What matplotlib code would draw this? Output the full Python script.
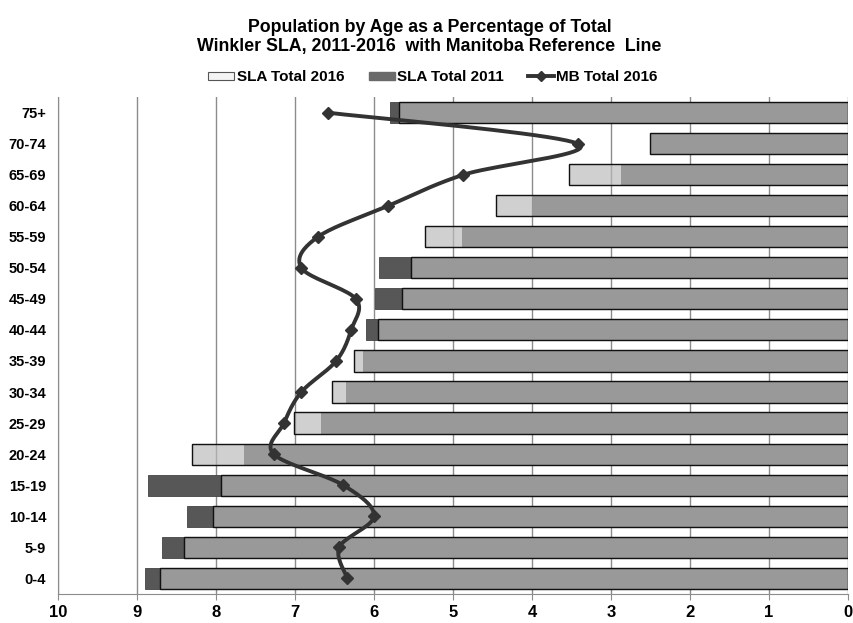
import numpy as np
import matplotlib.pyplot as plt
from matplotlib.patches import Patch
from matplotlib.lines import Line2D

plt.rcParams['font.family'] = ['Liberation Sans', 'DejaVu Sans']

ages = ['0-4', '5-9', '10-14', '15-19', '20-24', '25-29', '30-34', '35-39',
        '40-44', '45-49', '50-54', '55-59', '60-64', '65-69', '70-74', '75+']
sla_2016 = [8.71, 8.41, 8.04, 7.94, 8.30, 7.01, 6.53, 6.26,
            5.95, 5.65, 5.53, 5.35, 4.46, 3.53, 2.51, 5.68]
sla_2011 = [8.90, 8.68, 8.37, 8.86, 7.65, 6.67, 6.36, 6.14,
            6.10, 5.99, 5.94, 4.89, 4.00, 2.87, 2.50, 5.80]
mb_2016 = [6.34, 6.44, 6.00, 6.39, 7.27, 7.14, 6.92, 6.48,
           6.29, 6.23, 6.92, 6.71, 5.82, 4.87, 3.42, 6.58]


def smooth(xs, ys, n=20):
    # Catmull-Rom style smoothing like the spreadsheet "smoothed line"
    p = np.column_stack([xs, ys]).astype(float)
    p = np.vstack([p[0], p, p[-1]])
    out = []
    t = np.linspace(0, 1, n, endpoint=False)
    for i in range(1, len(p) - 2):
        p0, p1, p2, p3 = p[i - 1], p[i], p[i + 1], p[i + 2]
        c1 = p1 + (p2 - p0) / 6
        c2 = p2 - (p3 - p1) / 6
        for tt in t:
            b = ((1 - tt) ** 3) * p1 + 3 * ((1 - tt) ** 2) * tt * c1 + \
                3 * (1 - tt) * tt ** 2 * c2 + tt ** 3 * p2
            out.append(b)
    out.append(p[-2])
    out = np.array(out)
    return out[:, 0], out[:, 1]


fig = plt.figure(figsize=(8.54, 6.23), dpi=100)
ax = fig.add_axes([0.068, 0.047, 0.925, 0.797])

y = np.arange(len(ages))
h = 0.68
ax.barh(y, sla_2011, height=h, color='#575757', edgecolor='#444444',
        linewidth=0.6, zorder=2)
ax.barh(y, sla_2016, height=h, color='#bababa', alpha=0.68,
        edgecolor='black', linewidth=0.9, zorder=3)
ax.barh(y, sla_2016, height=h, fill=False, edgecolor='#111111',
        linewidth=0.9, zorder=3)

sx, sy = smooth(mb_2016, y)
ax.plot(sx, sy, color='#333333', lw=2.8, zorder=4, solid_capstyle='round')
ax.plot(mb_2016, y, ls='none', marker='D', ms=6, color='#333333', zorder=5)

ax.set_xlim(10, 0)
ax.set_ylim(-0.5, 15.5)
ax.set_xticks(range(0, 11))
ax.set_yticks(y)
ax.set_yticklabels(ages)
ax.grid(axis='x', color='#8c8c8c', lw=1.0, zorder=0)
for s in ['top', 'right']:
    ax.spines[s].set_visible(False)
ax.spines['left'].set_color('#8c8c8c')
ax.spines['bottom'].set_color('#8c8c8c')
ax.tick_params(axis='y', length=0, pad=8.5, labelsize=10.5)
ax.tick_params(axis='x', length=4, color='#8c8c8c', pad=4, labelsize=12)
for lab in ax.get_yticklabels():
    lab.set_fontweight('bold')
for lab in ax.get_xticklabels():
    lab.set_fontweight('bold')
    lab.set_family(['Liberation Sans Narrow', 'Liberation Sans'])

fig.text(0.503, 0.94, 'Population by Age as a Percentage of Total\n'
         'Winkler SLA, 2011-2016  with Manitoba Reference  Line',
         ha='center', va='center', fontsize=12.8, fontweight='bold',
         linespacing=1.15)

handles = [Patch(facecolor='#f4f4f4', edgecolor='#555555', lw=0.8),
           Patch(facecolor='#6a6a6a', edgecolor='#6a6a6a'),
           Line2D([], [], color='#333333', lw=2.8, marker='D', ms=5)]
fig.legend(handles, ['SLA Total 2016', 'SLA Total 2011', 'MB Total 2016'],
           loc='center', bbox_to_anchor=(0.507, 0.876), ncol=3, frameon=False,
           prop={'weight': 'bold', 'size': 11}, handlelength=1.7,
           handletextpad=0.15, columnspacing=1.6, handleheight=0.45)

fig.savefig('out.png', dpi=100)
